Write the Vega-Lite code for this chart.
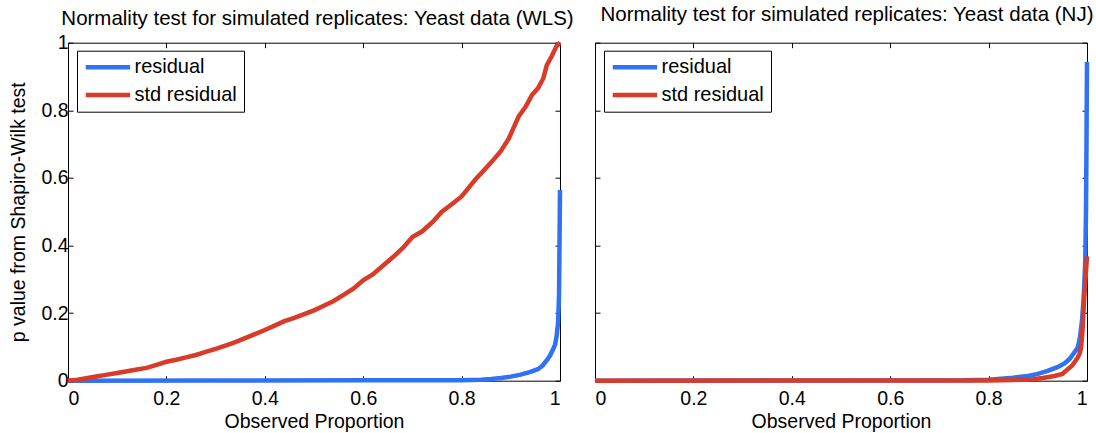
{
  "$schema": "https://vega.github.io/schema/vega-lite/v6.json",
  "padding": {"left": 7, "top": 4.7, "right": 0, "bottom": 0},
  "background": "white",
  "config": {
    "font": "Liberation Sans",
    "view": {"stroke": "black", "strokeWidth": 1},
    "axis": {
      "domain": false, "grid": false, "ticks": true, "tickColor": "black", "tickSize": -5, "tickWidth": 1,
      "labelColor": "black", "labelFontSize": 19.5, "labelFont": "Liberation Sans",
      "titleColor": "black", "titleFontSize": 19.5, "titleFontWeight": "normal", "titleFont": "Liberation Sans"
    },
    "title": {"fontSize": 20.5, "fontWeight": "normal", "color": "black", "anchor": "middle", "frame": "group", "baseline": "alphabetic", "font": "Liberation Sans"},
    "legend": {
      "orient": "none", "legendX": 9, "legendY": 8, "strokeColor": "black", "fillColor": "white", "padding": 6.5,
      "symbolType": "M-1.107,0H5.236", "symbolSize": 196, "symbolStrokeWidth": 4.5, "symbolFillColor": "transparent",
      "labelFontSize": 20, "labelFont": "Liberation Sans", "labelColor": "black", "labelOffset": 31, "rowPadding": 7.7, "cornerRadius": 0
    }
  },
  "datasets": {
    "wls": [
      {"series": "residual", "x": 0, "p": 0},
      {"series": "residual", "x": 0.3, "p": 0.0005},
      {"series": "residual", "x": 0.6, "p": 0.001},
      {"series": "residual", "x": 0.8, "p": 0.0015},
      {"series": "residual", "x": 0.84, "p": 0.003},
      {"series": "residual", "x": 0.86, "p": 0.005},
      {"series": "residual", "x": 0.88, "p": 0.008},
      {"series": "residual", "x": 0.9, "p": 0.012},
      {"series": "residual", "x": 0.92, "p": 0.018},
      {"series": "residual", "x": 0.94, "p": 0.026},
      {"series": "residual", "x": 0.955, "p": 0.034},
      {"series": "residual", "x": 0.965, "p": 0.045},
      {"series": "residual", "x": 0.974, "p": 0.062},
      {"series": "residual", "x": 0.98, "p": 0.075},
      {"series": "residual", "x": 0.985, "p": 0.09},
      {"series": "residual", "x": 0.99, "p": 0.107},
      {"series": "residual", "x": 0.993, "p": 0.13},
      {"series": "residual", "x": 0.996, "p": 0.17},
      {"series": "residual", "x": 0.998, "p": 0.25},
      {"series": "residual", "x": 0.999, "p": 0.4},
      {"series": "residual", "x": 1.0, "p": 0.564},
      {"series": "std residual", "x": 0, "p": 0},
      {"series": "std residual", "x": 0.02, "p": 0.003},
      {"series": "std residual", "x": 0.04, "p": 0.008},
      {"series": "std residual", "x": 0.06, "p": 0.013},
      {"series": "std residual", "x": 0.08, "p": 0.018},
      {"series": "std residual", "x": 0.1, "p": 0.023},
      {"series": "std residual", "x": 0.12, "p": 0.028},
      {"series": "std residual", "x": 0.14, "p": 0.033},
      {"series": "std residual", "x": 0.16, "p": 0.038},
      {"series": "std residual", "x": 0.18, "p": 0.047},
      {"series": "std residual", "x": 0.2, "p": 0.056},
      {"series": "std residual", "x": 0.22, "p": 0.062},
      {"series": "std residual", "x": 0.24, "p": 0.069},
      {"series": "std residual", "x": 0.26, "p": 0.076},
      {"series": "std residual", "x": 0.28, "p": 0.085},
      {"series": "std residual", "x": 0.3, "p": 0.094},
      {"series": "std residual", "x": 0.32, "p": 0.104},
      {"series": "std residual", "x": 0.34, "p": 0.114},
      {"series": "std residual", "x": 0.36, "p": 0.126},
      {"series": "std residual", "x": 0.38, "p": 0.138},
      {"series": "std residual", "x": 0.4, "p": 0.15},
      {"series": "std residual", "x": 0.42, "p": 0.163},
      {"series": "std residual", "x": 0.44, "p": 0.176},
      {"series": "std residual", "x": 0.46, "p": 0.186},
      {"series": "std residual", "x": 0.48, "p": 0.197},
      {"series": "std residual", "x": 0.5, "p": 0.208},
      {"series": "std residual", "x": 0.52, "p": 0.222},
      {"series": "std residual", "x": 0.54, "p": 0.236},
      {"series": "std residual", "x": 0.56, "p": 0.254},
      {"series": "std residual", "x": 0.58, "p": 0.272},
      {"series": "std residual", "x": 0.6, "p": 0.297},
      {"series": "std residual", "x": 0.62, "p": 0.315},
      {"series": "std residual", "x": 0.64, "p": 0.34},
      {"series": "std residual", "x": 0.66, "p": 0.365},
      {"series": "std residual", "x": 0.68, "p": 0.392},
      {"series": "std residual", "x": 0.7, "p": 0.425},
      {"series": "std residual", "x": 0.72, "p": 0.442},
      {"series": "std residual", "x": 0.74, "p": 0.468},
      {"series": "std residual", "x": 0.76, "p": 0.5},
      {"series": "std residual", "x": 0.78, "p": 0.522},
      {"series": "std residual", "x": 0.8, "p": 0.545},
      {"series": "std residual", "x": 0.828, "p": 0.595},
      {"series": "std residual", "x": 0.845, "p": 0.622},
      {"series": "std residual", "x": 0.862, "p": 0.649},
      {"series": "std residual", "x": 0.88, "p": 0.68},
      {"series": "std residual", "x": 0.896, "p": 0.717},
      {"series": "std residual", "x": 0.916, "p": 0.782},
      {"series": "std residual", "x": 0.93, "p": 0.81},
      {"series": "std residual", "x": 0.943, "p": 0.845},
      {"series": "std residual", "x": 0.955, "p": 0.865},
      {"series": "std residual", "x": 0.966, "p": 0.894},
      {"series": "std residual", "x": 0.973, "p": 0.933},
      {"series": "std residual", "x": 0.983, "p": 0.96},
      {"series": "std residual", "x": 0.993, "p": 0.99},
      {"series": "std residual", "x": 1.0, "p": 1.0}
    ],
    "nj": [
      {"series": "residual", "x": 0, "p": 0},
      {"series": "residual", "x": 0.5, "p": 0.0005},
      {"series": "residual", "x": 0.75, "p": 0.001},
      {"series": "residual", "x": 0.8, "p": 0.003},
      {"series": "residual", "x": 0.85, "p": 0.009},
      {"series": "residual", "x": 0.88, "p": 0.014},
      {"series": "residual", "x": 0.9, "p": 0.02},
      {"series": "residual", "x": 0.92, "p": 0.029},
      {"series": "residual", "x": 0.94, "p": 0.04},
      {"series": "residual", "x": 0.955, "p": 0.052},
      {"series": "residual", "x": 0.965, "p": 0.065},
      {"series": "residual", "x": 0.975, "p": 0.085},
      {"series": "residual", "x": 0.981, "p": 0.097},
      {"series": "residual", "x": 0.986, "p": 0.13},
      {"series": "residual", "x": 0.99, "p": 0.18},
      {"series": "residual", "x": 0.993, "p": 0.24},
      {"series": "residual", "x": 0.995, "p": 0.3},
      {"series": "residual", "x": 0.9966, "p": 0.36},
      {"series": "residual", "x": 0.998, "p": 0.5},
      {"series": "residual", "x": 0.999, "p": 0.7},
      {"series": "residual", "x": 1.0, "p": 0.943},
      {"series": "std residual", "x": 0, "p": 0},
      {"series": "std residual", "x": 0.8, "p": 0.0005},
      {"series": "std residual", "x": 0.85, "p": 0.002},
      {"series": "std residual", "x": 0.89, "p": 0.004},
      {"series": "std residual", "x": 0.91, "p": 0.008},
      {"series": "std residual", "x": 0.934, "p": 0.014},
      {"series": "std residual", "x": 0.95, "p": 0.02},
      {"series": "std residual", "x": 0.957, "p": 0.029},
      {"series": "std residual", "x": 0.97, "p": 0.045},
      {"series": "std residual", "x": 0.981, "p": 0.068},
      {"series": "std residual", "x": 0.985, "p": 0.08},
      {"series": "std residual", "x": 0.988, "p": 0.097},
      {"series": "std residual", "x": 0.991, "p": 0.15},
      {"series": "std residual", "x": 0.994, "p": 0.235},
      {"series": "std residual", "x": 0.997, "p": 0.3},
      {"series": "std residual", "x": 1.0, "p": 0.368}
    ]
  },
  "spacing": 35,
  "bounds": "flush",
  "resolve": {"legend": {"color": "independent"}, "scale": {"color": "independent"}},
  "hconcat": [
    {
      "title": {"text": "Normality test for simulated replicates: Yeast data (WLS)", "offset": 3.3, "dx": 3.5},
      "width": 492, "height": 338,
      "data": {"name": "wls"},
      "layer": [
        {
          "mark": {"type": "line", "strokeWidth": 4.5},
          "encoding": {
            "x": {"field": "x", "type": "quantitative", "scale": {"domain": [0, 1], "nice": false},
                  "axis": {"values": [0, 0.2, 0.4, 0.6, 0.8, 1], "format": "~g", "title": "Observed Proportion",
                           "labelPadding": 29, "labelBaseline": "alphabetic", "titleX": 246, "titleY": 47, "titleBaseline": "alphabetic", "titleAlign": "center"}},
            "y": {"field": "p", "type": "quantitative", "scale": {"domain": [0, 1], "nice": false},
                  "axis": {"values": [0, 0.2, 0.4, 0.6, 0.8, 1], "format": "~g", "title": "p value from Shapiro-Wilk test",
                           "labelPadding": 5, "titleX": -50, "titleY": 169, "titleAngle": -90, "titleBaseline": "middle", "titleAlign": "center"}},
            "color": {"field": "series", "type": "nominal",
                      "scale": {"domain": ["residual", "std residual"], "range": ["#2f72f3", "#d93b29"]},
                      "legend": {"title": null}}
          }
        },
        {
          "mark": {"type": "line", "strokeOpacity": 0},
          "encoding": {
            "x": {"field": "x", "type": "quantitative", "scale": {"domain": [0, 1], "nice": false},
                  "axis": {"orient": "top", "values": [0, 0.2, 0.4, 0.6, 0.8, 1], "labels": false, "title": null}},
            "y": {"field": "p", "type": "quantitative", "scale": {"domain": [0, 1], "nice": false},
                  "axis": {"orient": "right", "values": [0, 0.2, 0.4, 0.6, 0.8, 1], "labels": false, "title": null}}
          }
        }
      ],
      "resolve": {"axis": {"x": "independent", "y": "independent"}}
    },
    {
      "title": {"text": "Normality test for simulated replicates: Yeast data (NJ)", "offset": 16.3, "dx": 6},
      "width": 492, "height": 338,
      "data": {"name": "nj"},
      "layer": [
        {
          "mark": {"type": "line", "strokeWidth": 4.5},
          "encoding": {
            "x": {"field": "x", "type": "quantitative", "scale": {"domain": [0, 1], "nice": false},
                  "axis": {"values": [0, 0.2, 0.4, 0.6, 0.8, 1], "format": "~g", "title": "Observed Proportion",
                           "labelPadding": 29, "labelBaseline": "alphabetic", "titleX": 246, "titleY": 47, "titleBaseline": "alphabetic", "titleAlign": "center"}},
            "y": {"field": "p", "type": "quantitative", "scale": {"domain": [0, 1], "nice": false},
                  "axis": {"values": [0, 0.2, 0.4, 0.6, 0.8, 1], "labels": false, "title": null}},
            "color": {"field": "series", "type": "nominal",
                      "scale": {"domain": ["residual", "std residual"], "range": ["#2f72f3", "#d93b29"]},
                      "legend": {"title": null}}
          }
        },
        {
          "mark": {"type": "line", "strokeOpacity": 0},
          "encoding": {
            "x": {"field": "x", "type": "quantitative", "scale": {"domain": [0, 1], "nice": false},
                  "axis": {"orient": "top", "values": [0, 0.2, 0.4, 0.6, 0.8, 1], "labels": false, "title": null}},
            "y": {"field": "p", "type": "quantitative", "scale": {"domain": [0, 1], "nice": false},
                  "axis": {"orient": "right", "values": [0, 0.2, 0.4, 0.6, 0.8, 1], "labels": false, "title": null}}
          }
        }
      ],
      "resolve": {"axis": {"x": "independent", "y": "independent"}}
    }
  ]
}
